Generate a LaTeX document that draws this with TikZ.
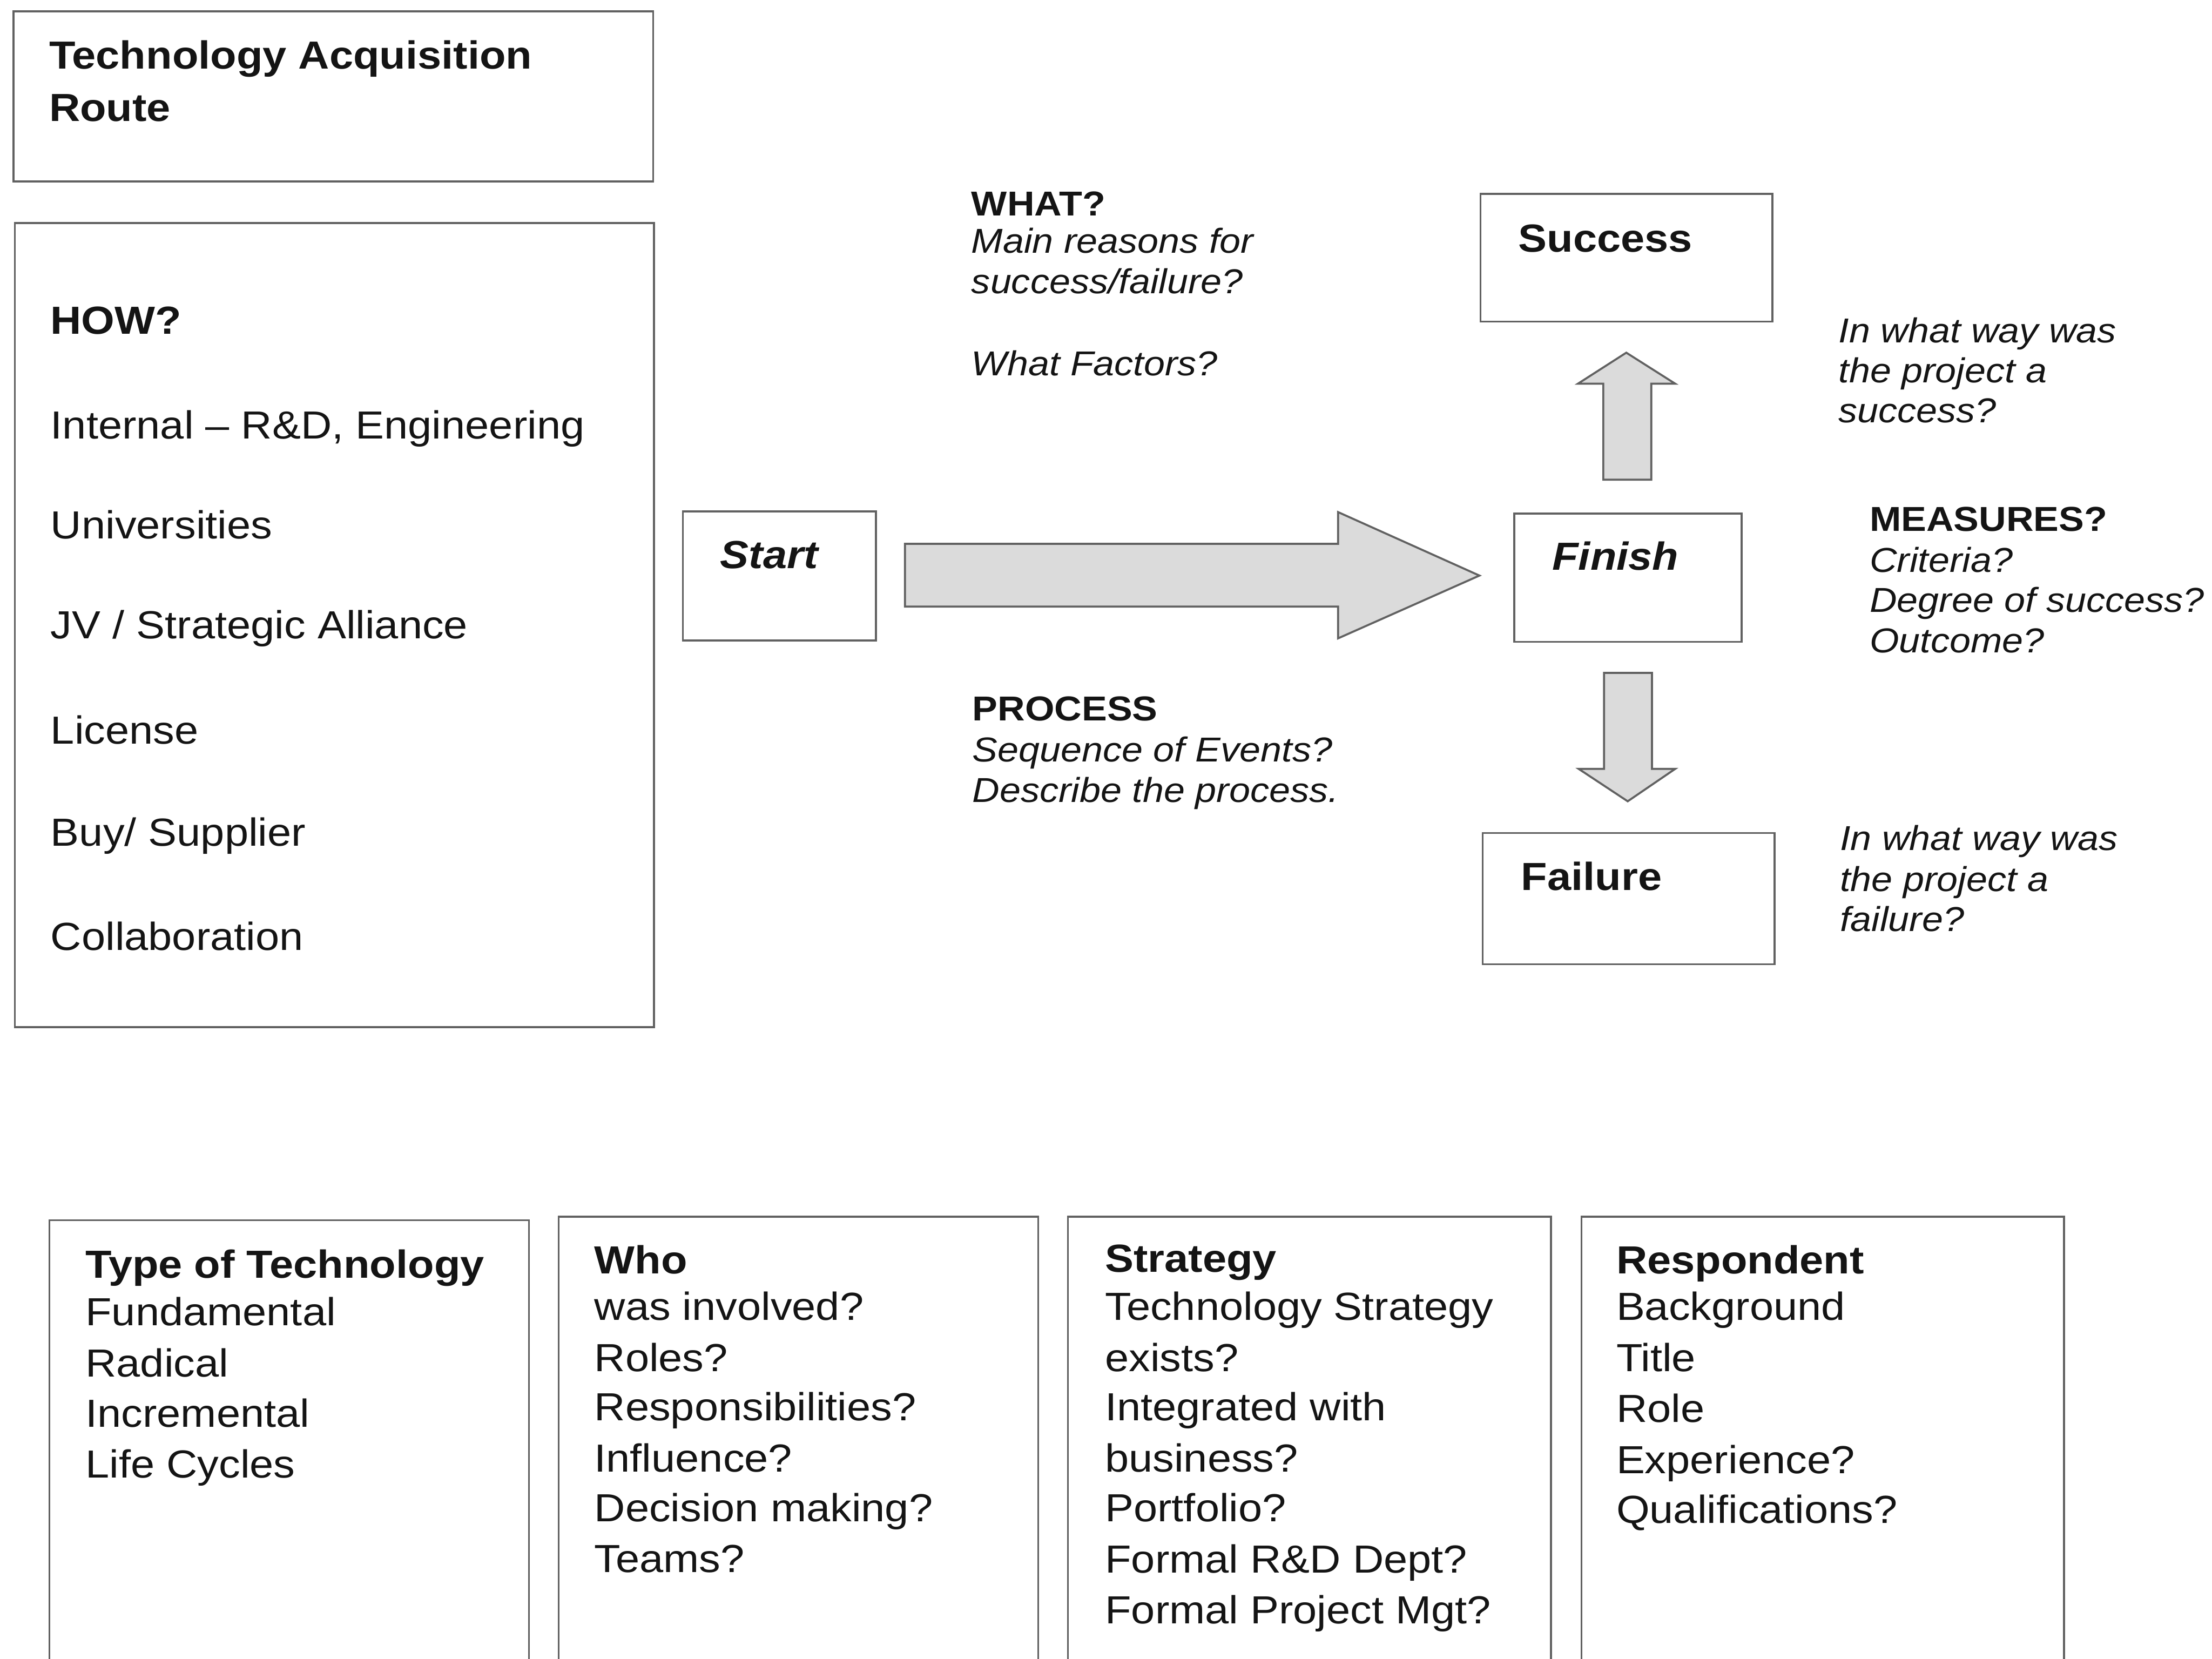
\documentclass[tikz,border=0pt]{standalone}
\usepackage{fontspec}
\setmainfont{Liberation Sans}[FakeStretch=1.095]
\usetikzlibrary{fit}
\definecolor{linegray}{gray}{0.38}
\definecolor{arrowfill}{gray}{0.86}
\definecolor{ink}{gray}{0.08}
\tikzset{
  box/.style={draw=linegray, line width=0.8pt, inner sep=0pt},
  bigtxt/.style={anchor=base west, inner sep=0pt, text=ink, font=\fontsize{15.8}{19}\selectfont},
  smalltxt/.style={anchor=base west, inner sep=0pt, text=ink, font=\fontsize{13.95}{17}\selectfont},
  blockarrow/.style={draw=linegray, line width=0.8pt, fill=arrowfill, line join=miter},
}
\begin{document}
\begin{tikzpicture}[x=0.02cm,y=-0.02cm]
\useasboundingbox (0,0) rectangle (1568,1176);
\clip (0,0) rectangle (1568,1176);
\fill[white] (0,0) rectangle (1568,1176);

% ---------- boxes ----------
\node[box, fit={(9.5,8) (463,128.5)}] (route) {};
\node[box, fit={(10.5,158) (463.5,728)}] (how) {};
\node[box, fit={(484,362.5) (621,454)}] (start) {};
\node[box, fit={(1073.5,364) (1234.5,455)}] (finish) {};
\node[box, fit={(1049.5,137.5) (1256.5,228)}] (success) {};
\node[box, fit={(1051,590.5) (1258,683.5)}] (failure) {};
\node[box, fit={(35,865) (375,1210)}] (tech) {};
\node[box, fit={(396,862.5) (736,1210)}] (who) {};
\node[box, fit={(757,862.5) (1099.5,1210)}] (strat) {};
\node[box, fit={(1121,862.5) (1463,1210)}] (resp) {};

% ---------- block arrows ----------
\draw[blockarrow] (641.5,385.5) -- (948.5,385.5) -- (948.5,363) -- (1048.7,408)
  -- (948.5,452.5) -- (948.5,430) -- (641.5,430) -- cycle;
\draw[blockarrow] (1136.5,340) -- (1136.5,272) -- (1118.5,272) -- (1152.8,250)
  -- (1187.5,272) -- (1170.5,272) -- (1170.5,340) -- cycle;
\draw[blockarrow] (1137,477) -- (1171,477) -- (1171,545) -- (1187.5,545)
  -- (1153.8,568) -- (1119,545) -- (1137,545) -- cycle;

% ---------- texts in boxes ----------
\node[bigtxt] (routeA) at (34.5,49) {\textbf{Technology Acquisition}};
\node[bigtxt] (routeB) at (34.5,86) {\textbf{Route}};

\node[bigtxt] (howT) at (35.5,236.7) {\textbf{HOW?}};
\node[bigtxt] (how1) at (35.6,311) {Internal – R\&D, Engineering};
\node[bigtxt] (how2) at (35.6,382) {Universities};
\node[bigtxt] (how3) at (35.6,452.8) {JV / Strategic Alliance};
\node[bigtxt] (how4) at (35.6,527.5) {License};
\node[bigtxt] (how5) at (35.6,599.6) {Buy/ Supplier};
\node[bigtxt] (how6) at (35.6,673.4) {Collaboration};

\node[bigtxt] (startT) at (510.3,403) {\textbf{\textit{Start}}};
\node[bigtxt] (finishT) at (1100,404) {\textbf{\textit{Finish}}};
\node[bigtxt] (successT) at (1076,178.4) {\textbf{Success}};
\node[bigtxt] (failureT) at (1078,631) {\textbf{Failure}};

% ---------- floating texts ----------
\node[smalltxt] (what0) at (688.3,152.8) {\textbf{WHAT?}};
\node[smalltxt] (what1) at (688.3,179.5) {\textit{Main reasons for}};
\node[smalltxt] (what2) at (688.3,208.1) {\textit{success/failure?}};
\node[smalltxt] (what3) at (688.3,266.3) {\textit{What Factors?}};

\node[smalltxt] (proc0) at (689,510.9) {\textbf{PROCESS}};
\node[smalltxt] (proc1) at (689,539.8) {\textit{Sequence of Events?}};
\node[smalltxt] (proc2) at (689,568.7) {\textit{Describe the process.}};

\node[smalltxt] (sq1) at (1303,243) {\textit{In what way was}};
\node[smalltxt] (sq2) at (1303,271.2) {\textit{the project a}};
\node[smalltxt] (sq3) at (1303,299.4) {\textit{success?}};

\node[smalltxt] (meas0) at (1325,376.4) {\textbf{MEASURES?}};
\node[smalltxt] (meas1) at (1325,405.6) {\textit{Criteria?}};
\node[smalltxt] (meas2) at (1325,433.8) {\textit{Degree of success?}};
\node[smalltxt] (meas3) at (1325,462.6) {\textit{Outcome?}};

\node[smalltxt] (fq1) at (1304,602.7) {\textit{In what way was}};
\node[smalltxt] (fq2) at (1304,631.9) {\textit{the project a}};
\node[smalltxt] (fq3) at (1304,660.3) {\textit{failure?}};

% ---------- bottom boxes ----------
\node[bigtxt] (techT) at (60.3,905.9) {\textbf{Type of Technology}};
\node[bigtxt] (tech1) at (60.3,939.5) {Fundamental};
\node[bigtxt] (tech2) at (60.3,975.8) {Radical};
\node[bigtxt] (tech3) at (60.3,1011.4) {Incremental};
\node[bigtxt] (tech4) at (60.3,1047.6) {Life Cycles};

\node[bigtxt] (whoT) at (421,902.7) {\textbf{Who}};
\node[bigtxt] (who1) at (421,935.7) {was involved?};
\node[bigtxt] (who2) at (421,972) {Roles?};
\node[bigtxt] (who3) at (421,1007.1) {Responsibilities?};
\node[bigtxt] (who4) at (421,1043.4) {Influence?};
\node[bigtxt] (who5) at (421,1078.5) {Decision making?};
\node[bigtxt] (who6) at (421,1114.4) {Teams?};

\node[bigtxt] (stratT) at (783,901.6) {\textbf{Strategy}};
\node[bigtxt] (strat1) at (783,935.7) {Technology Strategy};
\node[bigtxt] (strat2) at (783,972) {exists?};
\node[bigtxt] (strat3) at (783,1007.1) {Integrated with};
\node[bigtxt] (strat4) at (783,1043.4) {business?};
\node[bigtxt] (strat5) at (783,1078.5) {Portfolio?};
\node[bigtxt] (strat6) at (783,1114.8) {Formal R\&D Dept?};
\node[bigtxt] (strat7) at (783,1151) {Formal Project Mgt?};

\node[bigtxt] (respT) at (1145.4,902.7) {\textbf{Respondent}};
\node[bigtxt] (resp1) at (1145.4,935.7) {Background};
\node[bigtxt] (resp2) at (1145.4,972) {Title};
\node[bigtxt] (resp3) at (1145.4,1008.2) {Role};
\node[bigtxt] (resp4) at (1145.4,1044.5) {Experience?};
\node[bigtxt] (resp5) at (1145.4,1079.6) {Qualifications?};
\end{tikzpicture}
\end{document}
